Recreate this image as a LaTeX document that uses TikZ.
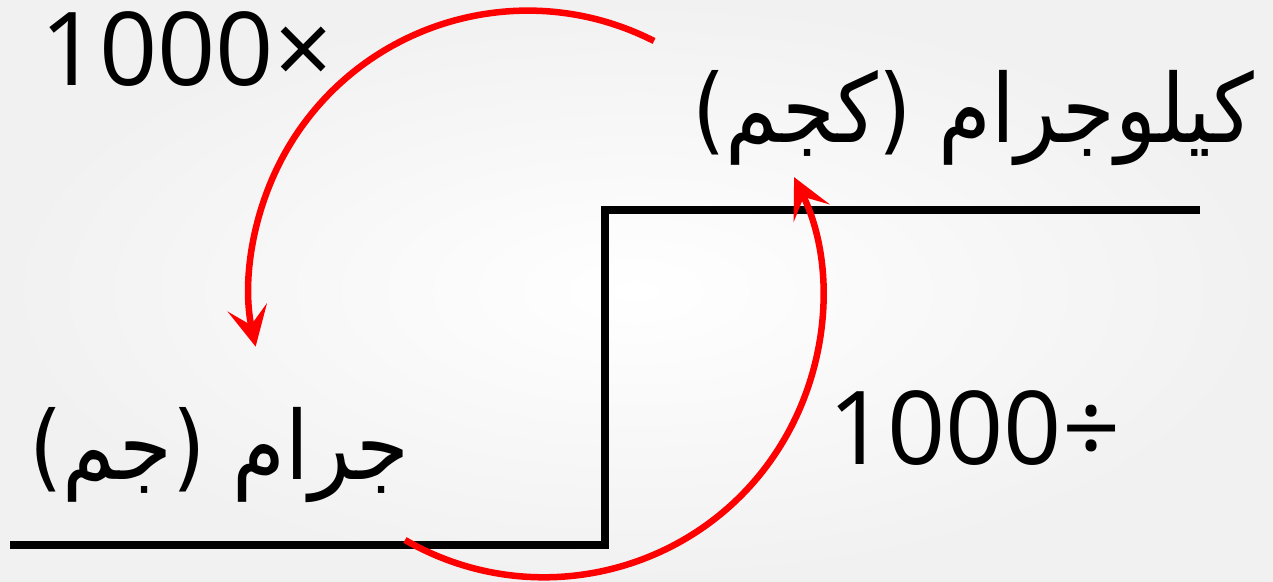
\documentclass[tikz,border=0pt]{standalone}
\usepackage{fontspec}
\setmainfont{Open Sans}
\newfontfamily\arabicfont[Script=Arabic, FakeStretch=0.9]{DejaVu Sans}
\TeXXeTstate=1
\usetikzlibrary{arrows.meta}
\tikzset{
	steps/.style={line width=0.075cm, line join=miter},
	turn/.style={red, line width=0.065cm, -{Stealth[length=4mm, width=4mm, inset=1.8mm]}},
	factor/.style={inner sep=0pt, font=\fontsize{29}{35}\selectfont},
	unit/.style={inner sep=0pt, font=\arabicfont\fontsize{27}{33}\selectfont}
}

\begin{document}
\begin{tikzpicture}[x=0.01cm, y=0.01cm]
	\useasboundingbox (0, 0) rectangle (1273, 582);
	\shade[inner color=white, outer color=gray!11] (0, 0) rectangle (1273, 582);
	% the two levels
	\coordinate (g0) at (10, 37);
	\coordinate (g1) at (605, 37);
	\coordinate (k0) at (605, 372);
	\coordinate (k1) at (1200, 372);
	\draw[steps] (g0) -- (g1) -- (k0) -- (k1);
	\node[unit, anchor=base east] (kilo) at (1255, 439) {\beginR كيلوجرام (كجم)\endR};
	\node[unit, anchor=base east] (gram) at (410, 102) {\beginR جرام (جم)\endR};
	\node[factor, anchor=base west] (times) at (40, 496) {1000×};
	\node[factor, anchor=base west] (div) at (828, 117) {1000÷};
	% conversions
	\coordinate (up) at (654, 541);
	\coordinate (down) at (405, 42);
	\draw[turn] (up) arc[start angle=63, end angle=192, radius=2.78cm];
	\draw[turn] (down) arc[start angle=240, end angle=386, radius=2.78cm];
\end{tikzpicture}
\end{document}
